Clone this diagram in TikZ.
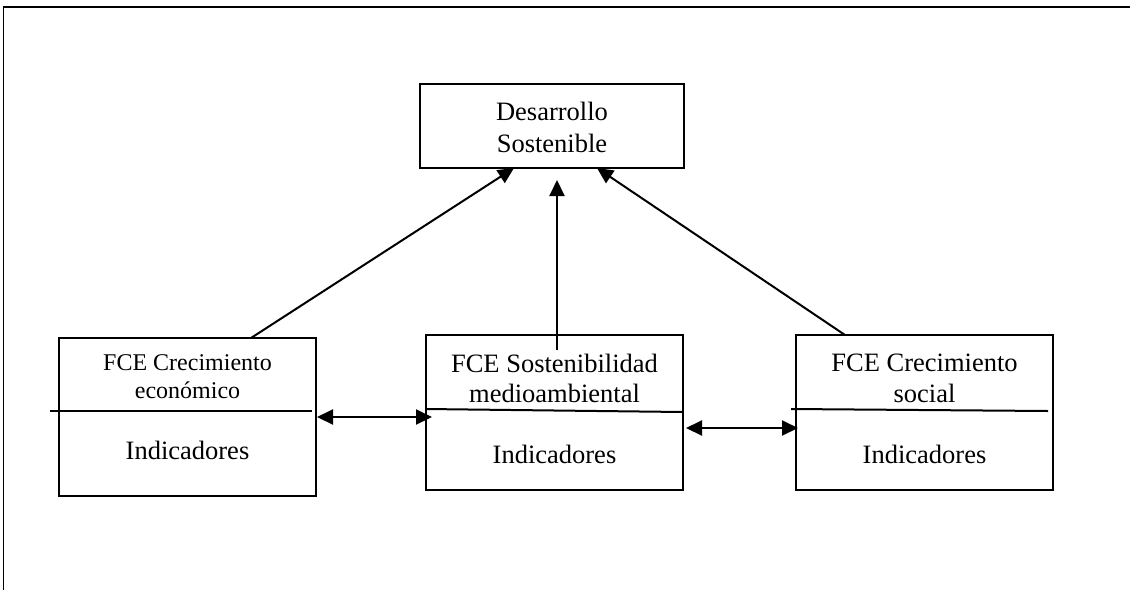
\documentclass[tikz,border=0pt]{standalone}
\usepackage{fontspec}
\setmainfont{Liberation Serif}
\usetikzlibrary{arrows.meta}
\begin{document}
\begin{tikzpicture}[x=1pt,y=-1pt,
  line width=2pt,
  box/.style={draw,line width=2pt,inner sep=0pt},
  big/.style={font=\fontsize{26.5}{31}\selectfont,inner sep=0pt,anchor=base},
  small/.style={font=\fontsize{24}{28}\selectfont,inner sep=0pt,anchor=base},
  tip/.style={-{Triangle[length=16pt,width=15pt]}},
  dtip/.style={{Triangle[length=16pt,width=15pt]}-{Triangle[length=16pt,width=15pt]}}]
\useasboundingbox (0,0) rectangle (1130,590);
% outer frame (open on the right and bottom)
\draw[line width=1.6pt] (3.5,590) -- (3.5,7) -- (1130,7);

% goal box
\node[box,minimum width=264pt,minimum height=84pt] (ds) at (552,126) {};
\node[big] (ds1) at (552,120) {Desarrollo};
\node[big] (ds2) at (552,152) {Sostenible};

% factor boxes
\node[box,minimum width=257pt,minimum height=158pt] (ec) at (187.5,417) {};
\node[box,minimum width=257pt,minimum height=155pt] (ma) at (554.5,412.5) {};
\node[box,minimum width=257pt,minimum height=155pt] (so) at (924.5,412.5) {};

% dividers between header and indicators
\coordinate (ecL) at (50,411);  \coordinate (ecR) at (312,411);
\coordinate (maL) at (426,409); \coordinate (maR) at (683,412);
\coordinate (soL) at (791,409); \coordinate (soR) at (1048,411);
\draw (ecL) -- (ecR);
\draw (maL) -- (maR);
\draw (soL) -- (soR);

% box texts
\node[small] (ec1) at (187.5,370) {FCE Crecimiento};
\node[small] (ec2) at (187.5,398) {económico};
\node[big]   (ec3) at (187.5,459) {Indicadores};
\node[big] (ma1) at (554.5,372) {FCE Sostenibilidad};
\node[big] (ma2) at (554.5,402) {medioambiental};
\node[big] (ma3) at (554.5,463) {Indicadores};
\node[big] (so1) at (924.5,371) {FCE Crecimiento};
\node[big] (so2) at (924.5,402) {social};
\node[big] (so3) at (924.5,463) {Indicadores};

% connectors to the goal
\coordinate (ecT) at (251,338);
\coordinate (maT) at (557,350);
\coordinate (soT) at (845,335);
\coordinate (dsA) at (514,168);
\coordinate (dsB) at (557,180);
\coordinate (dsC) at (597,168);
\draw[tip] (ecT) -- (dsA);
\draw[tip] (maT) -- (dsB);
\draw[tip] (soT) -- (dsC);

% links between neighbouring factors
\coordinate (l1a) at (317,417); \coordinate (l1b) at (432,417);
\coordinate (l2a) at (686,428); \coordinate (l2b) at (798,428);
\draw[dtip] (l1a) -- (l1b);
\draw[dtip] (l2a) -- (l2b);
\end{tikzpicture}
\end{document}
